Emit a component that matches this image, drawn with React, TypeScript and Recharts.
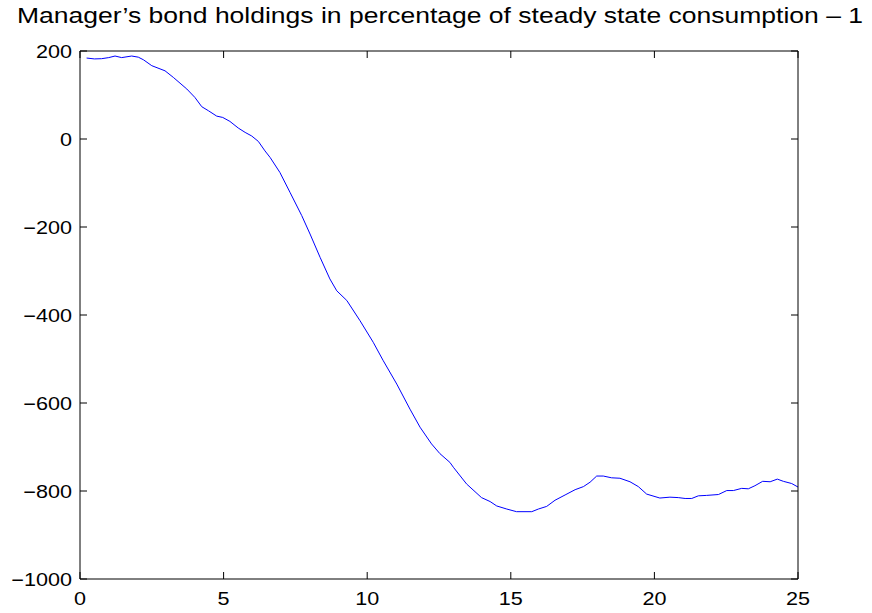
import React from "react";
import { LineChart, Line, XAxis, YAxis } from "recharts";

// time (years) and bond holdings (% of steady state consumption)
const xs = [
  0.23, 0.5, 0.75, 1.0, 1.22, 1.45, 1.8, 2.03, 2.21, 2.5, 2.96, 3.25, 3.72, 4.0,
  4.24, 4.47, 4.76, 4.97, 5.22, 5.51, 5.75, 5.98, 6.21, 6.44, 6.62, 6.96, 7.31,
  7.72, 8.01, 8.36, 8.7, 8.94, 9.29, 9.75, 10.21, 10.56, 11.03, 11.49, 11.84,
  12.24, 12.53, 12.88, 13.0, 13.46, 13.98, 14.28, 14.51, 14.86, 15.2, 15.73,
  15.96, 16.25, 16.54, 16.89, 17.24, 17.53, 17.76, 17.99, 18.22, 18.51, 18.8,
  19.15, 19.44, 19.73, 20.19, 20.54, 20.83, 21.07, 21.3, 21.53, 21.82, 22.23,
  22.52, 22.75, 23.04, 23.27, 23.5, 23.77, 24.03, 24.28, 24.49, 24.78, 25.0,
];
const holdings = [
  184, 182, 182.5, 185, 188.6, 185, 188.6, 186, 180, 166.6, 155, 140, 113.6,
  94.5, 73.4, 64.3, 52, 49, 40, 25, 15, 6.8, -5.5, -27, -42, -76, -121, -174,
  -216, -269, -318, -345, -367, -413, -462, -504, -557, -614, -655, -693, -715,
  -735, -746, -784, -815, -824, -834, -841, -847, -847, -841, -835, -821, -809,
  -797, -790, -780, -766, -766, -770, -771, -779, -790, -807, -816, -814, -815,
  -817, -817, -811, -810, -808, -799, -799, -794, -795, -788, -778, -779, -773,
  -778, -783, -791,
];
const xTicks = [0, 5, 10, 15, 20, 25];
const yTicks = [-1000, -800, -600, -400, -200, 0, 200];
const TITLE = "Manager’s bond holdings in percentage of steady state consumption – 1";

const data = xs.map((t, i) => ({ t, v: holdings[i] }));

const FONT = "'Liberation Sans', Arial, Helvetica, sans-serif";
const TICK = 7;
const STRETCH = 1.2; // the original figure's text is a bit wide
const fmt = (n: number) => (n < 0 ? "\u2212" + Math.abs(n) : String(n));

function LeftTick({ x, y, payload }: any) {
  return (
    <g>
      <line x1={x} y1={y} x2={x + TICK} y2={y} stroke="#000" />
      <text
        transform={`translate(${x - 8},${y + 7}) scale(${STRETCH},1)`}
        textAnchor="end"
        fontSize={18}
        fontFamily={FONT}
        fill="#000"
      >
        {fmt(payload.value)}
      </text>
    </g>
  );
}

function RightTick({ x, y }: any) {
  return <line x1={x} y1={y} x2={x - TICK} y2={y} stroke="#000" />;
}

function BottomTick({ x, y, payload }: any) {
  return (
    <g>
      <line x1={x} y1={y} x2={x} y2={y - TICK} stroke="#000" />
      <text
        transform={`translate(${x},${y + 26}) scale(${STRETCH},1)`}
        textAnchor="middle"
        fontSize={18}
        fontFamily={FONT}
        fill="#000"
      >
        {payload.value}
      </text>
    </g>
  );
}

function TopTick({ x, y }: any) {
  return <line x1={x} y1={y} x2={x} y2={y + TICK} stroke="#000" />;
}

export default function App() {
  return (
    <div style={{ position: "absolute", left: 0, top: 0, width: 872, height: 613, background: "#fff" }}>
      <svg width={872} height={45} style={{ position: "absolute", left: 0, top: 0 }}>
        <text
          x={17}
          y={23}
          textLength={846}
          lengthAdjust="spacingAndGlyphs"
          fontSize={22}
          fontFamily={FONT}
          fill="#000"
        >
          {TITLE}
        </text>
      </svg>
      <LineChart width={872} height={613} data={data} margin={{ top: 41, right: 64, bottom: 4, left: 20 }}>
        <XAxis
          xAxisId="bottom"
          dataKey="t"
          type="number"
          domain={[0, 25]}
          ticks={xTicks}
          orientation="bottom"
          height={30}
          tickSize={0}
          tickMargin={0}
          tickLine={false}
          axisLine={{ stroke: "#000" }}
          tick={<BottomTick />}
          interval={0}
        />
        <XAxis
          xAxisId="top"
          dataKey="t"
          type="number"
          domain={[0, 25]}
          ticks={xTicks}
          orientation="top"
          height={10}
          tickSize={0}
          tickMargin={0}
          tickLine={false}
          axisLine={{ stroke: "#000" }}
          tick={<TopTick />}
          interval={0}
        />
        <YAxis
          yAxisId="left"
          type="number"
          domain={[-1000, 200]}
          ticks={yTicks}
          orientation="left"
          width={60}
          tickSize={0}
          tickMargin={0}
          tickLine={false}
          axisLine={{ stroke: "#000" }}
          tick={<LeftTick />}
          interval={0}
        />
        <YAxis
          yAxisId="right"
          type="number"
          domain={[-1000, 200]}
          ticks={yTicks}
          orientation="right"
          width={10}
          tickSize={0}
          tickMargin={0}
          tickLine={false}
          axisLine={{ stroke: "#000" }}
          tick={<RightTick />}
          interval={0}
        />
        <Line
          xAxisId="bottom"
          yAxisId="left"
          dataKey="v"
          type="linear"
          stroke="#0000ff"
          strokeWidth={1}
          dot={false}
          isAnimationActive={false}
        />
        <Line
          xAxisId="top"
          yAxisId="right"
          dataKey="v"
          type="linear"
          stroke="none"
          dot={false}
          isAnimationActive={false}
        />
      </LineChart>
    </div>
  );
}
